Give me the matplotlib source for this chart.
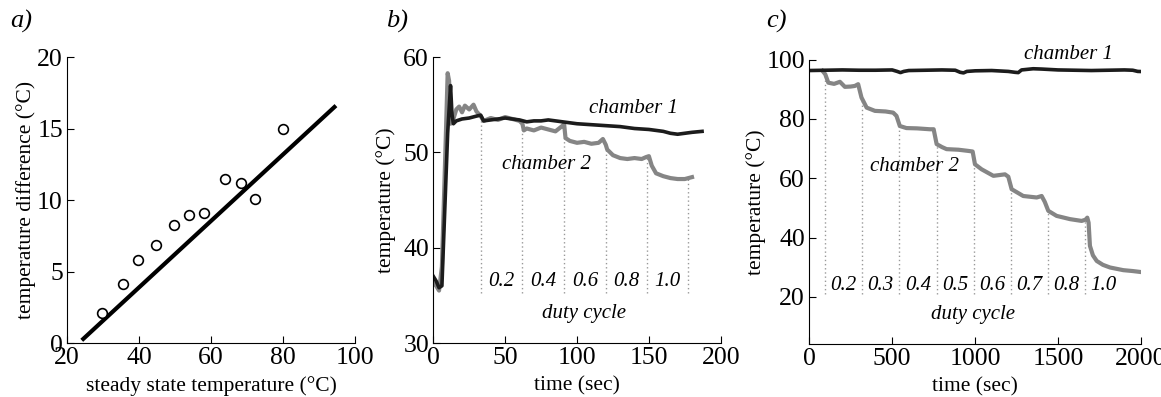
import numpy as np
import matplotlib
matplotlib.use("Agg")
import matplotlib.pyplot as plt

plt.rcParams['font.family'] = ['Liberation Serif', 'DejaVu Serif']
plt.rcParams['mathtext.fontset'] = 'stix'

# panel a: steady state temperature vs temperature difference
a_x = [29.8, 35.5, 39.8, 44.7, 49.7, 53.9, 58.1, 64.0, 68.4, 72.2, 79.9]
a_y = [2.1, 4.12, 5.77, 6.82, 8.24, 8.92, 9.08, 11.46, 11.2, 10.1, 14.97]
fit_x = [24.1, 94.7]
fit_y = [0.19, 16.6]

# panel b: short test
b_t1 = [0, 2, 4, 6, 8, 10, 12, 13, 14, 16, 20, 25, 30, 33, 35, 40, 45, 50, 55, 60,
        65, 70, 75, 80, 85, 90, 95, 100, 110, 120, 130, 140, 150, 160, 165, 170,
        175, 180, 187]
b_T1 = [37, 36.5, 35.8, 36, 44, 52, 57, 54, 53, 53.3, 53.5, 53.6, 53.8, 53.9, 53.3,
        53.4, 53.5, 53.6, 53.5, 53.4, 53.2, 53.3, 53.3, 53.4, 53.3, 53.2, 53.1, 53,
        52.9, 52.8, 52.7, 52.5, 52.4, 52.2, 52.0, 51.9, 52.0, 52.1, 52.2]
b_t2 = [0, 2, 4, 6, 8, 10, 11, 12, 14, 16, 18, 20, 22, 25, 28, 30, 33, 35, 40, 45,
        50, 55, 60, 62, 63, 65, 70, 75, 80, 85, 90, 91, 92, 95, 100, 105, 110, 115,
        118, 120, 121, 123, 125, 130, 135, 140, 145, 148, 150, 152, 155, 160, 165,
        170, 175, 180]
b_T2 = [36.3, 36, 35.5, 38, 48, 58.3, 57.5, 53, 53.5, 54.5, 54.8, 54.2, 54.9, 54.5,
        55, 54.3, 53.8, 53.3, 53.6, 53.4, 53.7, 53.5, 53.3, 53, 52.3, 52.5, 52.3,
        52.6, 52.4, 52.2, 52.8, 53, 51.5, 51.2, 51, 51.1, 50.9, 51, 51.4, 50.8, 50.3,
        50, 49.7, 49.4, 49.3, 49.4, 49.3, 49.5, 49.6, 48.6, 47.8, 47.5, 47.3, 47.2,
        47.2, 47.4]
b_steps = [33, 62, 91, 120, 149, 177]
b_duty = ['0.2', '0.4', '0.6', '0.8', '1.0']

# panel c: long test
c_t1 = [0, 100, 200, 300, 400, 500, 530, 550, 570, 600, 700, 800, 880, 910, 930,
        950, 1000, 1100, 1200, 1240, 1260, 1280, 1350, 1400, 1500, 1600, 1700, 1800,
        1900, 1950, 1980, 2030]
c_T1 = [96.3, 96.4, 96.5, 96.4, 96.4, 96.5, 96, 95.6, 96, 96.3, 96.4, 96.5, 96.4,
        95.7, 95.5, 96, 96.2, 96.3, 96, 95.7, 95.6, 96.5, 96.9, 96.8, 96.5, 96.4,
        96.3, 96.4, 96.5, 96.4, 96, 95.9]
c_t2 = [80, 97, 115, 150, 185, 215, 250, 275, 295, 315, 346, 396, 460, 506, 526,
        546, 586, 650, 727, 750, 768, 800, 828, 900, 959, 985, 999, 1039, 1110, 1180,
        1200, 1220, 1290, 1371, 1401, 1420, 1441, 1491, 1572, 1642, 1665, 1676, 1684,
        1692, 1710, 1733, 1770, 1813, 1893, 1950, 2024]
c_T2 = [96.2, 95, 92.2, 91.8, 92.5, 90.8, 90.9, 91.1, 91.7, 87.2, 83.8, 82.7, 82.5,
        82.1, 81, 77.6, 76.9, 76.8, 76.5, 76.5, 71.5, 70.5, 69.8, 69.6, 69.2, 69,
        64.7, 63, 60.8, 61.3, 60.5, 56.3, 54, 53.5, 54, 52, 49, 47.3, 46.2, 45.6, 46,
        46.7, 45, 37.2, 34, 32.1, 30.8, 29.9, 29, 28.7, 28.2]
c_steps = [97, 320, 543, 768, 991, 1214, 1437, 1660]
c_duty = ['0.2', '0.3', '0.4', '0.5', '0.6', '0.7', '0.8', '1.0']

gray = '#858585'
dark = '#1c1c1c'
tick_fs = 18.5
lab_fs = 15.5
ann_fs = 15

fig = plt.figure(figsize=(11.61, 3.97), dpi=100)
axa = fig.add_axes([0.0577, 0.136, 0.2481, 0.7204])
axb = fig.add_axes([0.3732, 0.136, 0.2476, 0.7204])
axc = fig.add_axes([0.6970, 0.1327, 0.2858, 0.7173])

for ax in (axa, axb, axc):
    ax.spines['top'].set_visible(False)
    ax.spines['right'].set_visible(False)
    ax.tick_params(direction='in', length=5, labelsize=tick_fs, pad=3)

# a)
axa.plot(fit_x, fit_y, color='k', lw=3, solid_capstyle='butt')
axa.plot(a_x, a_y, 'o', mfc='white', mec='k', ms=7, mew=1.2)
axa.set_xlim(20, 100)
axa.set_ylim(0, 20)
axa.set_xticks([20, 40, 60, 80, 100])
axa.set_yticks([0, 5, 10, 15, 20])
axa.set_xlabel('steady state temperature (°C)', fontsize=lab_fs, labelpad=5)
axa.set_ylabel('temperature difference (°C)', fontsize=lab_fs, labelpad=1)

# b)
for s in b_steps:
    top = np.interp(s, b_t2, b_T2)
    axb.plot([s, s], [35.2, top], color='#999999', lw=1, ls=(0, (1, 2)))
for i, lab in enumerate(b_duty):
    axb.text((b_steps[i] + b_steps[i + 1]) / 2, 36.5, lab, ha='center', va='center',
             fontsize=ann_fs, style='italic')
axb.plot(b_t2, b_T2, color=gray, lw=3)
axb.plot(b_t1, b_T1, color=dark, lw=2.6)
axb.text(139, 54.6, 'chamber 1', ha='center', va='center', fontsize=ann_fs, style='italic')
axb.text(79, 48.7, 'chamber 2', ha='center', va='center', fontsize=ann_fs, style='italic')
axb.text(105, 33.1, 'duty cycle', ha='center', va='center', fontsize=ann_fs, style='italic')
axb.set_xlim(0, 200)
axb.set_ylim(30, 60)
axb.set_xticks([0, 50, 100, 150, 200])
axb.set_yticks([30, 40, 50, 60])
axb.set_xlabel('time (sec)', fontsize=lab_fs, labelpad=5)
axb.set_ylabel('temperature (°C)', fontsize=lab_fs, labelpad=5)

# c)
for s in c_steps:
    top = np.interp(s, c_t2, c_T2)
    axc.plot([s, s], [20.9, top], color='#999999', lw=1, ls=(0, (1, 2)))
c_mids = [(c_steps[i] + c_steps[i + 1]) / 2 for i in range(len(c_steps) - 1)] + [1771]
for x, lab in zip(c_mids, c_duty):
    axc.text(x, 23.7, lab, ha='center', va='center', fontsize=ann_fs, style='italic')
axc.plot(c_t2, c_T2, color=gray, lw=3)
axc.plot(c_t1, c_T1, color=dark, lw=2.6)
axc.text(1562, 101.8, 'chamber 1', ha='center', va='center', fontsize=ann_fs,
         style='italic', clip_on=False)
axc.text(637, 63.8, 'chamber 2', ha='center', va='center', fontsize=ann_fs, style='italic')
axc.text(989, 14.2, 'duty cycle', ha='center', va='center', fontsize=ann_fs, style='italic')
axc.set_xlim(0, 2000)
axc.set_ylim(4, 100)
axc.set_xticks([0, 500, 1000, 1500, 2000])
axc.set_yticks([20, 40, 60, 80, 100])
axc.set_xlabel('time (sec)', fontsize=lab_fs, labelpad=5)
axc.set_ylabel('temperature (°C)', fontsize=lab_fs, labelpad=0)

for lab, x in (('a)', 10), ('b)', 386), ('c)', 766)):
    fig.text(x / 1161, 1 - 21 / 397, lab, fontsize=19, style='italic', ha='left', va='center')

fig.savefig('out.png', dpi=100)
